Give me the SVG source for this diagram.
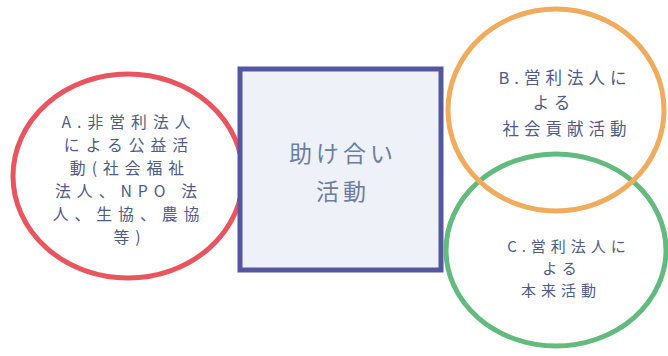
<svg xmlns="http://www.w3.org/2000/svg" width="668" height="356" viewBox="0 0 668 356">
<style>
.t{font-family:"Noto Sans CJK JP","Noto Sans",sans-serif;fill:#4f5c88;text-anchor:middle;dominant-baseline:central}
.s{font-size:15.8px;letter-spacing:6px}
.b{font-size:16.5px;letter-spacing:5px}
.c{font-size:15px;letter-spacing:5px}
.m{font-size:23px;letter-spacing:4px;fill:#6a7ea2}
</style>
<rect width="668" height="356" fill="#ffffff"/>
<g id="nodeA">
<ellipse cx="128" cy="176" rx="115" ry="102" fill="none" stroke="#e8555f" stroke-width="5"/>
<text class="t s" x="129" y="121">A.非営利法人</text>
<text class="t s" x="129" y="144">による公益活</text>
<text class="t s" x="130" y="167">動(社会福祉</text>
<text class="t s" x="129" y="190">法人、NPO 法</text>
<text class="t s" x="129" y="213">人、生協、農協</text>
<text class="t s" x="130" y="236">等)</text>
</g>
<g id="center">
<rect x="240" y="69" width="201" height="201" fill="#eff1f8" stroke="#5456a0" stroke-width="5"/>
<text class="t m" x="343" y="152">助け合い</text>
<text class="t m" x="343" y="190">活動</text>
</g>
<g id="nodeC">
<ellipse cx="556" cy="250" rx="110" ry="96" fill="none" stroke="#62bb7c" stroke-width="5"/>
<text class="t c" x="569" y="245">C.営利法人に</text>
<text class="t c" x="562" y="267">よる</text>
<text class="t c" x="561" y="289">本来活動</text>
</g>
<g id="nodeB">
<ellipse cx="556" cy="110" rx="108" ry="101" fill="none" stroke="#f0ac5c" stroke-width="5"/>
<text class="t b" x="565" y="77">B.営利法人に</text>
<text class="t b" x="554" y="102">よる</text>
<text class="t b" x="567" y="128">社会貢献活動</text>
</g>
<g id="connectors"></g>
</svg>
